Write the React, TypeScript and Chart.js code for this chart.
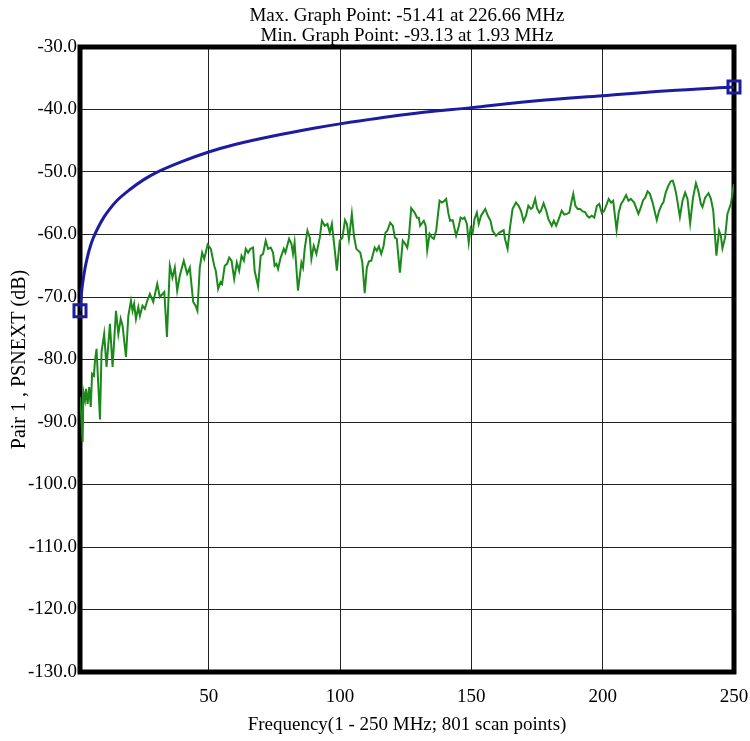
import React, { useEffect, useRef } from 'react';
import { Chart, registerables } from 'chart.js';

Chart.register(...registerables);

const FONT = '"Liberation Serif", "Times New Roman", serif';

const TITLE_LINES = ['Max. Graph Point: -51.41 at 226.66 MHz', 'Min. Graph Point: -93.13 at 1.93 MHz'];
const X_TITLE = 'Frequency(1 - 250 MHz; 801 scan points)';
const Y_TITLE = 'Pair 1 , PSNEXT (dB)';
const X_TICKS = [1, 50, 100, 150, 200, 250];
const Y_MIN = -130;
const Y_MAX = -30;
const Y_STEP = 10;

// Limit line (blue)
const limitFreq = [1, 1.5, 2, 3, 4, 5, 6, 8, 10, 12, 15, 20, 25, 30, 40, 50, 60, 75, 90, 100, 125, 150, 175, 200, 225, 250];
const limitDb = [-72.2, -69.6, -67.8, -65.2, -63.3, -61.8, -60.6, -58.8, -57.3, -56.1, -54.6, -52.8, -51.3, -50.1, -48.3, -46.8, -45.6, -44.2, -43.0, -42.3, -40.8, -39.7, -38.6, -37.8, -37.0, -36.4];

// Measured PSNEXT (green)
const measFreq = [
  1.0, 1.4, 2.0, 2.3, 2.9, 3.3, 3.9, 4.5, 5.1, 5.6, 6.3, 6.7, 7.3, 7.7, 8.6, 9.2, 10.2, 11.1, 12.4, 13.4,
  14.7, 15.6, 16.5, 17.2, 18.5, 19.4, 20.4, 21.0, 21.6, 22.3, 23.2, 23.8, 24.8, 25.7, 26.6, 27.6, 28.9, 30.4, 31.4, 33.1,
  34.1, 35.2, 36.2, 37.1, 38.0, 39.0, 40.5, 41.8, 42.8, 44.1, 45.0, 45.7,
  46.6, 47.5, 48.3, 49.6, 50.8, 52.1, 52.7, 53.6, 54.5, 55.1, 56.1, 57.0, 57.8, 58.7, 59.7, 60.7, 61.6, 62.5,
  63.4, 64.1, 65.0, 65.9, 66.9, 67.5, 68.8, 69.8, 70.7, 71.7, 72.6, 73.6, 74.5, 75.1, 75.8, 76.4, 77.4, 78.6, 79.2, 80.6,
  81.5, 82.1, 82.7, 84.0, 85.3, 85.9, 86.6, 87.6, 88.5, 89.1, 90.0, 91.0, 92.3, 93.1, 94.2, 95.2, 96.1, 96.9,
  97.9, 98.8, 99.9, 100.9, 101.9, 102.6, 103.4, 104.5, 105.3, 106.2, 107.7, 108.5, 109.4, 110.2, 111.0, 111.9, 113.2, 114.0,
  114.8, 115.7, 116.6, 117.3, 118.0, 119.1, 120.1, 120.9, 121.6, 122.8, 123.9, 124.8, 125.6, 126.2, 127.1, 128.4, 129.3, 130.0,
  130.5, 131.9, 132.6, 133.2, 134.1, 135.0, 135.7, 136.6, 137.9, 138.8, 139.5, 140.4, 141.3, 141.9, 142.9, 144.2, 145.1, 145.9,
  146.7, 147.4, 148.3, 149.0,
  149.7, 150.5, 151.2, 152.1, 152.8, 153.7, 154.4, 155.3, 156.3, 157.3, 158.1, 159.4, 160.7, 162.3, 162.8, 163.8, 164.7, 165.7,
  167.0, 168.0, 168.9, 169.9, 170.8, 171.7, 172.7, 173.3, 174.3, 175.0, 175.9, 176.5, 177.5, 178.5, 179.3, 180.6, 181.4, 182.3,
  183.3, 184.4, 185.4, 186.4, 187.3, 188.2, 188.8, 189.6, 190.5, 191.4, 192.4, 193.3, 194.1, 194.9, 195.8, 196.8, 197.8,
  198.7, 199.7, 200.6, 202.3, 203.2, 204.0, 205.3, 206.1, 207.0, 207.8, 208.9, 209.8, 210.7, 212.0, 213.6, 214.5, 215.4, 216.2,
  217.1, 218.0, 219.0, 220.6, 221.5, 222.5, 223.1, 224.0, 225.0, 225.9, 226.7, 227.4, 228.0, 229.4, 230.4, 231.4, 232.3, 233.3,
  234.4, 235.5, 236.4, 237.4, 238.0, 239.0, 240.3, 241.2, 242.1, 243.3, 244.3, 245.0, 245.6, 246.6, 247.5, 248.8, 250.0,
];
const measDb = [
  -86.0, -88.6, -93.2, -85.2, -86.5, -84.7, -87.1, -84.4, -87.6, -82.3, -82.6, -80.2, -78.3, -81.8, -89.6, -78.8, -75.9, -81.2, -74.3, -81.2,
  -72.2, -75.9, -73.5, -74.6, -79.6, -73.0, -70.6, -72.2, -71.1, -73.5, -71.6, -73.0, -71.4, -71.9, -70.6, -69.5, -70.8, -67.9, -70.0, -69.2,
  -76.4, -65.0, -66.9, -65.3, -69.0, -66.6, -64.2, -66.3, -65.3, -70.8, -71.4, -72.2,
  -65.3, -62.9, -63.9, -61.6, -62.3, -65.0, -65.8, -68.7, -67.6, -67.9, -65.0, -64.7, -63.7, -64.2, -67.1, -64.5, -65.8, -63.4,
  -64.2, -62.3, -62.9, -62.3, -62.1, -65.8, -68.3, -63.4, -63.1, -61.0, -62.3, -62.1, -62.9, -65.0, -64.7, -65.5, -63.7, -62.3, -62.9, -60.7,
  -61.5, -63.1, -61.3, -69.0, -64.5, -65.3, -62.1, -59.4, -60.5, -63.9, -61.8, -63.1, -60.5, -57.8, -58.6, -58.3, -59.7, -58.3,
  -62.1, -65.8, -61.0, -60.5, -57.7, -58.3, -60.7, -56.7, -60.2, -62.3, -62.9, -64.5, -69.4, -65.3, -64.3, -64.2, -62.1, -62.6,
  -61.9, -63.1, -61.8, -59.7, -59.4, -58.1, -58.6, -60.5, -60.7, -66.1, -61.0, -61.5, -62.1, -60.5, -55.8, -56.5, -57.3, -57.3,
  -58.6, -57.8, -58.6, -62.5, -59.9, -60.5, -60.7, -59.4, -54.6, -54.9, -54.7, -54.3, -56.7, -57.8, -57.7, -60.2, -58.9, -57.3,
  -57.5, -57.3, -58.3, -61.3,
  -59.0, -59.7, -57.5, -56.5, -58.3, -57.0, -56.5, -55.9, -57.0, -57.8, -59.4, -60.2, -59.7, -59.3, -60.7, -62.3, -58.9, -55.9,
  -54.9, -55.4, -56.2, -57.9, -57.0, -55.4, -55.9, -55.7, -54.3, -55.8, -56.5, -56.2, -55.0, -56.2, -57.5, -58.6, -57.8, -58.6,
  -57.5, -56.2, -56.8, -56.7, -56.5, -54.6, -53.5, -55.4, -55.9, -55.9, -56.3, -56.4, -57.0, -57.3, -57.0, -57.3, -55.4,
  -55.1, -56.6, -56.2, -54.3, -54.9, -54.6, -59.3, -56.5, -55.1, -54.6, -53.7, -54.6, -54.3, -54.9, -56.7, -55.7, -54.5, -54.1,
  -53.1, -53.5, -54.9, -57.7, -56.2, -55.2, -54.9, -53.3, -52.2, -51.5, -51.41, -52.4, -53.5, -57.2, -54.6, -53.3, -54.3, -58.2,
  -54.1, -51.8, -53.0, -55.1, -55.6, -54.1, -53.4, -54.3, -56.2, -63.4, -59.4, -60.2, -62.2, -60.5, -56.7, -55.1, -51.9,
];

const BLUE = '#1c1ca0';
const GREEN = '#1b8a1b';

const framePlugin = {
  id: 'frame',
  beforeDatasetsDraw(chart: any) {
    const { ctx, chartArea } = chart;
    const { left, top, right, bottom } = chartArea;
    ctx.save();
    ctx.strokeStyle = '#000';
    ctx.lineWidth = 5;
    ctx.strokeRect(left, top, right - left, bottom - top);
    ctx.restore();
  },
};

export default function App() {
  const ref = useRef<HTMLCanvasElement | null>(null);

  useEffect(() => {
    if (!ref.current) return;
    const limitPts = limitFreq.map((f, i) => ({ x: f, y: limitDb[i] }));
    const measPts = measFreq.map((f, i) => ({ x: f, y: measDb[i] }));
    const markerPts = [limitPts[0], limitPts[limitPts.length - 1]];

    const chart = new Chart(ref.current, {
      type: 'line',
      data: {
        datasets: [
          {
            data: markerPts,
            showLine: false,
            pointStyle: 'rect',
            pointRadius: 8.5,
            pointBorderWidth: 3,
            pointBorderColor: BLUE,
            pointBackgroundColor: 'rgba(0,0,0,0)',
            borderColor: BLUE,
            clip: false as any,
          },
          {
            data: limitPts,
            borderColor: BLUE,
            borderWidth: 3,
            pointRadius: 0,
            cubicInterpolationMode: 'monotone',
            fill: false,
          },
          {
            data: measPts,
            borderColor: GREEN,
            borderWidth: 2,
            pointRadius: 0,
            tension: 0,
            fill: false,
          },
        ],
      },
      options: {
        responsive: false,
        animation: false,
        devicePixelRatio: 1,
        layout: { padding: { left: 0, right: 16, top: 0, bottom: 0 } },
        plugins: {
          legend: { display: false },
          tooltip: { enabled: false },
          title: {
            display: true,
            text: TITLE_LINES,
            color: '#000',
            fullSize: false,
            font: { family: FONT, size: 19, weight: 'normal', lineHeight: 20 / 19 },
            padding: { top: 6, bottom: 1 },
          },
        },
        scales: {
          x: {
            type: 'linear',
            min: 1,
            max: 250,
            afterFit: (s: any) => {
              s.height = 69;
              s.paddingLeft = 0;
              s.paddingRight = 0;
            },
            afterBuildTicks: (s: any) => { s.ticks = X_TICKS.map((v) => ({ value: v })); },
            ticks: {
              color: '#000',
              font: { family: FONT, size: 19 },
              padding: 14,
              maxRotation: 0,
              autoSkip: false,
              callback: (v: any) => (v === 1 ? '' : String(v)),
            },
            grid: { color: '#222', lineWidth: 1, drawTicks: false },
            border: { display: false },
            title: {
              display: true,
              text: X_TITLE,
              color: '#000',
              font: { family: FONT, size: 19, lineHeight: 20 / 19 },
              padding: { top: 0, bottom: 6 },
            },
          },
          y: {
            type: 'linear',
            min: Y_MIN,
            max: Y_MAX,
            afterFit: (s: any) => { s.width = 80; },
            ticks: {
              stepSize: Y_STEP,
              color: '#000',
              font: { family: FONT, size: 19 },
              padding: 3,
              callback: (v: any) => Number(v).toFixed(1),
            },
            grid: { color: '#222', lineWidth: 1, drawTicks: false },
            border: { display: false },
            title: {
              display: true,
              text: Y_TITLE,
              color: '#000',
              font: { family: FONT, size: 20, lineHeight: 1 },
              padding: { top: 10, bottom: 0 },
            },
          },
        },
      },
      plugins: [framePlugin],
    } as any);

    return () => chart.destroy();
  }, []);

  return (
    <div style={{ position: 'fixed', left: 0, top: 0, width: 750, height: 741, background: '#fff' }}>
      <canvas ref={ref} width={750} height={741} style={{ display: 'block', width: 750, height: 741 }} />
    </div>
  );
}
